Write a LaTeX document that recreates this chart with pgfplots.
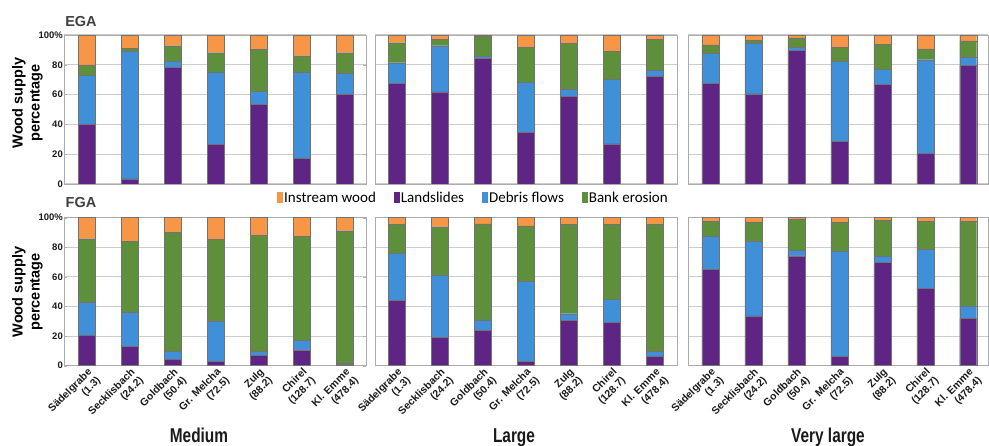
\documentclass[border=0pt]{standalone}
\usepackage{fontspec}
\setmainfont{Liberation Sans}
\newfontfamily\legfont{Carlito}
\usepackage{pgfplots}
\pgfplotsset{compat=1.18}
\usepackage{pgfplotstable}
\definecolor{cI}{HTML}{F79646}
\definecolor{cL}{HTML}{5E2584}
\definecolor{cD}{HTML}{3F8FD9}
\definecolor{cB}{HTML}{5E8F3B}
\definecolor{txt}{HTML}{1A1A1A}

% columns: x, Landslides, Debris flows, Bank erosion, Instream wood
\pgfplotstableread{
x L D B I
0 40.0 33.0 7.0 20.0
1 3.4 85.4 2.2 9.0
2 78.5 4.2 10.1 7.2
3 26.7 48.6 12.8 11.9
4 53.6 8.5 28.3 9.6
5 17.3 57.8 11.0 13.9
6 60.3 13.9 13.9 11.9
}\EGAmed
\pgfplotstableread{
x L D B I
0 67.5 13.9 13.4 5.2
1 61.9 30.9 4.5 2.7
2 84.5 1.2 13.2 1.1
3 34.8 33.4 23.5 8.3
4 59.0 4.5 30.9 5.6
5 26.9 43.3 19.0 10.8
6 72.2 4.0 21.1 2.7
}\EGAlar
\pgfplotstableread{
x L D B I
0 67.7 20.0 5.6 6.7
1 60.5 33.9 2.2 3.4
2 89.5 2.0 6.5 2.0
3 28.5 53.6 9.8 8.1
4 66.8 10.3 16.6 6.3
5 20.6 62.8 7.2 9.4
6 79.4 5.6 11.0 4.0
}\EGAvl
\pgfplotstableread{
x L D B I
0 20.5 22.5 42.8 14.2
1 13.3 22.7 48.0 16.0
2 4.5 5.0 80.8 9.7
3 2.7 27.5 55.4 14.4
4 7.0 2.5 78.6 11.9
5 10.8 6.3 70.1 12.8
6 1.1 0.5 89.6 8.8
}\FGAmed
\pgfplotstableread{
x L D B I
0 44.1 31.8 19.6 4.5
1 19.1 42.2 32.6 6.1
2 24.1 6.8 65.0 4.1
3 2.9 54.1 37.4 5.6
4 30.6 4.5 60.4 4.5
5 29.5 15.5 50.3 4.7
6 6.1 3.6 85.8 4.5
}\FGAlar
\pgfplotstableread{
x L D B I
0 65.3 22.1 10.3 2.3
1 33.6 50.4 13.1 2.9
2 74.3 3.4 21.2 1.1
3 6.3 71.2 19.3 3.2
4 69.6 4.3 24.5 1.6
5 52.3 26.3 18.9 2.5
6 32.0 8.5 57.2 2.3
}\FGAvl

\newcommand{\bars}[1]{%
\addplot[fill=cL] table[x=x,y=L]{#1};
\addplot[fill=cD] table[x=x,y=D]{#1};
\addplot[fill=cB] table[x=x,y=B]{#1};
\addplot[fill=cI] table[x=x,y=I]{#1};}
\newcommand{\tl}[2]{\textbf{#1}\\\textbf{#2}}

\pgfplotsset{
 panel/.style={scale only axis, height=149pt, ybar stacked, bar width=17pt,
   ymin=0, ymax=100, ytick={0,20,...,100}, xtick={0,...,6},
   axis line style={gray!65}, ymajorgrids, major grid style={gray!40, line width=1pt},
   major tick length=0pt, yticklabels={}, xticklabels={},
   every axis plot/.append style={draw=black!55, line width=0.4pt, forget plot},
   anchor=south west,
   /pgf/number format/assume math mode=true},
 med/.style={width=302pt, xmin=-0.535, xmax=6.49},
 lar/.style={width=302pt, xmin=-0.51, xmax=6.51},
 vl/.style={width=300pt, xmin=-0.52, xmax=6.46},
 first/.style={yticklabels={\textbf{0},\textbf{20},\textbf{40},\textbf{60},\textbf{80},\textbf{100\%}}, major tick length=3pt, tick style={gray!60},
   y tick label style={font=\fontsize{9.5}{10}\selectfont, text=txt, inner sep=1pt}},
 bottom/.style={height=148pt,
   xticklabels={{\tl{Sädelgrabe}{(1.3)}},{\tl{Secklisbach}{(24.2)}},{\tl{Goldbach}{(50.4)}},{\tl{Gr. Melcha}{(72.5)}},{\tl{Zulg}{(88.2)}},{\tl{Chirel}{(128.7)}},{\tl{Kl. Emme}{(478.4)}}},
   x tick label style={rotate=45, anchor=north east, align=right, font=\fontsize{10.5}{12}\selectfont, text=txt, inner sep=1pt}},
}

\begin{document}
\begin{tikzpicture}[x=1pt,y=1pt]
\useasboundingbox (0,0) rectangle (989,446);
% top row (EGA)
\begin{axis}[panel, med, first, at={(64pt,262pt)}]
\bars{\EGAmed}
\end{axis}
\begin{axis}[panel, lar, at={(375pt,262pt)},
  legend style={at={(-0.3245,-0.094)}, anchor=west, draw=none, fill=none, inner sep=0pt,
    font=\legfont\fontsize{15}{16}\selectfont, legend columns=4,
    /tikz/every even column/.append style={column sep=17pt}, nodes={inner sep=1pt}},
  legend image code/.code={\fill[#1] (0pt,-5.5pt) rectangle (6pt,5.5pt);}]
\bars{\EGAlar}
\addlegendimage{fill=cI, draw=none}\addlegendentry{Instream wood}
\addlegendimage{fill=cL, draw=none}\addlegendentry{Landslides}
\addlegendimage{fill=cD, draw=none}\addlegendentry{Debris flows}
\addlegendimage{fill=cB, draw=none}\addlegendentry{Bank erosion}
\end{axis}
\begin{axis}[panel, vl, at={(688pt,262pt)}]
\bars{\EGAvl}
\end{axis}
% bottom row (FGA)
\begin{axis}[panel, med, first, bottom, at={(64pt,80.3pt)}]
\bars{\FGAmed}
\end{axis}
\begin{axis}[panel, lar, bottom, at={(375pt,80.3pt)}]
\bars{\FGAlar}
\end{axis}
\begin{axis}[panel, vl, bottom, at={(688pt,80.3pt)}]
\bars{\FGAvl}
\end{axis}
% titles and labels
\node[font=\bfseries\fontsize{14.5}{16}\selectfont, text=black!75] at (81,424) {EGA};
\node[font=\bfseries\fontsize{14.5}{16}\selectfont, text=black!75] at (81,243) {FGA};
\node[rotate=90, align=center, font=\bfseries\fontsize{14.5}{17}\selectfont, text=black] at (27.5,343) {Wood supply\\percentage};
\node[rotate=90, align=center, font=\bfseries\fontsize{14.5}{17}\selectfont, text=black] at (27.5,154) {Wood supply\\percentage};
\node[anchor=base, xscale=0.77, font=\bfseries\fontsize{20}{22}\selectfont, text=txt] at (199,3.5) {Medium};
\node[anchor=base, xscale=0.77, font=\bfseries\fontsize{20}{22}\selectfont, text=txt] at (514,3.5) {Large};
\node[anchor=base, xscale=0.77, font=\bfseries\fontsize{20}{22}\selectfont, text=txt] at (828,3.5) {Very large};
\end{tikzpicture}
\end{document}
